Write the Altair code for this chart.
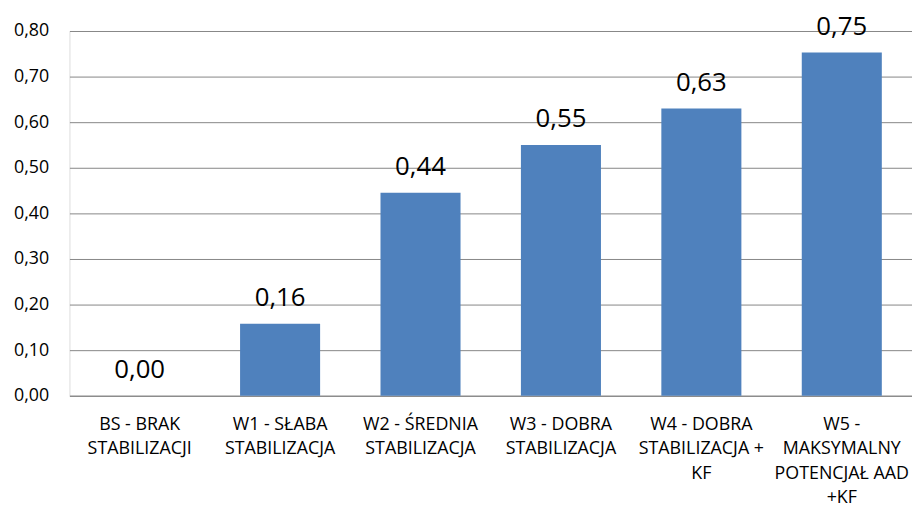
import altair as alt
import pandas as pd

categories = [
    "BS - BRAK|STABILIZACJI",
    "W1 - SŁABA|STABILIZACJA",
    "W2 - ŚREDNIA|STABILIZACJA",
    "W3 - DOBRA|STABILIZACJA",
    "W4 - DOBRA|STABILIZACJA +|KF",
    "W5 -|MAKSYMALNY|POTENCJAŁ AAD|+KF",
]
values = [0.00, 0.158, 0.445, 0.55, 0.63, 0.753]
value_labels = ["0,00", "0,16", "0,44", "0,55", "0,63", "0,75"]
y_ticks = [0.0, 0.1, 0.2, 0.3, 0.4, 0.5, 0.6, 0.7, 0.8]

df = pd.DataFrame({"cat": categories, "val": values, "lab": value_labels})

FONT = "Open Sans"

x = alt.X(
    "cat:N",
    sort=categories,
    title=None,
    scale=alt.Scale(paddingInner=0.43, paddingOuter=0.215),
    axis=alt.Axis(
        labelExpr="split(datum.label, '|')",
        labelAngle=0,
        labelFontSize=18,
        labelFont=FONT,
        labelColor="#000000",
        labelPadding=20,
        labelLineHeight=24.5,
        labelLimit=250,
        ticks=False,
        domainColor="#868686",
        domainWidth=1,
        grid=False,
    ),
)
y = alt.Y(
    "val:Q",
    title=None,
    scale=alt.Scale(domain=[0, 0.8], nice=False),
    axis=alt.Axis(
        values=y_ticks,
        labelExpr="replace(format(datum.value, '.2f'), '.', ',')",
        labelFontSize=18,
        labelFont=FONT,
        labelColor="#000000",
        labelPadding=21,
        ticks=False,
        domain=False,
        grid=True,
        gridColor="#868686",
        gridWidth=1,
    ),
)

bars = alt.Chart(df).mark_bar(color="#4F81BD").encode(x=x, y=y)
texts = alt.Chart(df).mark_text(
    fontSize=26, font=FONT, color="#000000", baseline="alphabetic", dy=-18
).encode(x=alt.X("cat:N", sort=categories), y="val:Q", text="lab:N")

chart = (
    alt.layer(bars, texts)
    .properties(
        width=850,
        height=368,
        autosize=alt.AutoSizeParams(type="none"),
        padding={"left": 62, "top": 21, "right": 0, "bottom": 108},
    )
    .configure_view(stroke=None)
    .configure(background="#ffffff")
)

chart.save("out.html", embed_options={"renderer": "svg", "actions": False})
